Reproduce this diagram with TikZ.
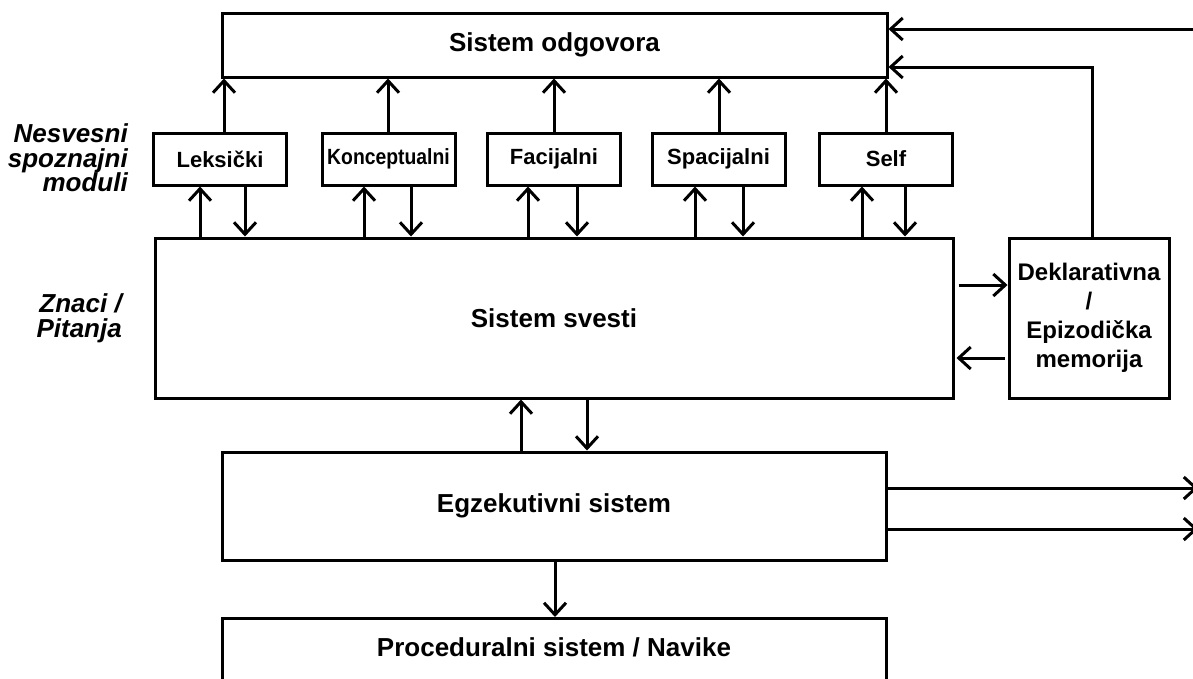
\documentclass[tikz,border=0pt]{standalone}
\usepackage{fontspec}
\setmainfont{Liberation Sans}
\usetikzlibrary{arrows.meta,calc}
\tikzset{
  box/.style={draw, line width=3pt, inner sep=0pt, font=\bfseries\fontsize{26}{30}\selectfont},
  modbox/.style={box, minimum width=133pt, minimum height=52pt, font=\bfseries\fontsize{22}{26}\selectfont},
  arr/.style={line width=3pt, -{Straight Barb[length=12pt,width=22pt,line width=3pt]}},
  side/.style={font=\bfseries\itshape\fontsize{26}{24.5}\selectfont, align=right, inner sep=0pt}
}
\begin{document}
\begin{tikzpicture}[x=1pt,y=-1pt]
\clip (0,0) rectangle (1193,678);
\fill[white] (0,0) rectangle (1193,678);

% main boxes
\node[box, minimum width=665pt, minimum height=64pt] (odg) at (554.5,45) {Sistem odgovora};
\node[modbox] (lek) at (220,159) {Leksički};
\node[modbox] (kon) at (388.5,159) {\scalebox{0.88}[1]{Konceptualni}};
\node[modbox] (fac) at (554,159) {Facijalni};
\node[modbox] (spa) at (718.5,159) {Spacijalni};
\node[modbox] (self) at (886,159) {Self};
\node[box, minimum width=798pt, minimum height=160pt] (svesti) at (554,318) {Sistem svesti};
\node[box, minimum width=160pt, minimum height=160pt, align=center,
      font=\bfseries\fontsize{24}{29}\selectfont] (dekl) at (1089,318)
      {Deklarativna\\/\\Epizodička\\memorija};
\node[box, minimum width=664pt, minimum height=108pt] (egz) at (554,506) {Egzekutivni sistem};
\node[box, minimum width=664pt, minimum height=130pt, anchor=north] (proc) at (554,617) {};
\node[font=\bfseries\fontsize{26}{30}\selectfont, inner sep=0pt] (proctxt) at (554,647) {Proceduralni sistem / Navike};

% side labels
\node[side, anchor=east] (nes) at (128,158) {Nesvesni\\spoznajni\\moduli};
\node[side, anchor=east, font=\bfseries\itshape\fontsize{26}{25}\selectfont] (zna) at (122,318) {Znaci /\\Pitanja};

% modules -> response system
\foreach \m/\x in {lek/224, kon/388, fac/554, spa/719, self/886} {
  \draw[arr] (\m.north -| \x,0) -- (odg.south -| \x,0);
}
% svesti <-> modules
\foreach \m/\u/\d in {lek/200/245, kon/364/411, fac/528/577, spa/695/743, self/862/905} {
  \draw[arr] (svesti.north -| \u,0) -- (\m.south -| \u,0);
  \draw[arr] (\m.south -| \d,0) -- (svesti.north -| \d,0);
}

% external input to response system
\coordinate (inR) at (1200,29);
\draw[arr] (inR) -- (odg.east |- inR);
% declarative memory -> response system
\draw[arr] (dekl.north -| 1092,0) |- (odg.east |- 0,67);

% svesti <-> dekl
\draw[arr, shorten <=4pt] (svesti.east |- 0,285) -- (dekl.west |- 0,285);
\draw[arr, shorten <=3pt, shorten >=2pt] (dekl.west |- 0,358) -- (svesti.east |- 0,358);

% svesti <-> egz
\draw[arr] (egz.north -| 521,0) -- (svesti.south -| 521,0);
\draw[arr] (svesti.south -| 587,0) -- (egz.north -| 587,0);

% egz outputs
\coordinate (out1) at (1198,488);
\coordinate (out2) at (1198,529);
\draw[arr] (egz.east |- out1) -- (out1);
\draw[arr] (egz.east |- out2) -- (out2);

% egz -> proc
\draw[arr] (egz.south -| 555,0) -- (proc.north -| 555,0);
\end{tikzpicture}
\end{document}
